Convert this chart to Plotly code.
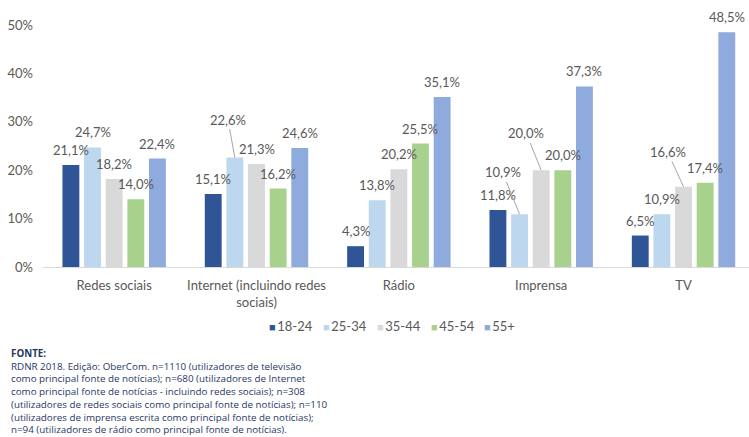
import plotly.graph_objects as go

categories = ["Redes sociais", "Internet (incluindo redes<br>sociais)", "Rádio", "Imprensa", "TV"]
series_names = ["18-24", "25-34", "35-44", "45-54", "55+"]
v_18_24 = [21.1, 15.1, 4.3, 11.8, 6.5]
v_25_34 = [24.7, 22.6, 13.8, 10.9, 10.9]
v_35_44 = [18.2, 21.3, 20.2, 20.0, 16.6]
v_45_54 = [14.0, 16.2, 25.5, 20.0, 17.4]
v_55p = [22.4, 24.6, 35.1, 37.3, 48.5]
series_values = [v_18_24, v_25_34, v_35_44, v_45_54, v_55p]
colors = ["#2F5597", "#BDD7EE", "#D9D9D9", "#A9D18E", "#8FAADC"]
y_ticks = [0, 10, 20, 30, 40, 50]
y_ticklabels = ["0%", "10%", "20%", "30%", "40%", "50%"]

# labels drawn with a leader line: (series index, category index) -> (dx, dy) in px
leader = {(1, 1): (-7, -38), (1, 3): (-17, -42), (2, 3): (-15, -37), (2, 4): (-16, -35)}

FONT = "Lato, 'Open Sans', sans-serif"
GRAY = "#595959"
W, H = 749, 437
ML, MT = 43, 25
PLOT_BOTTOM = 267
MB = H - PLOT_BOTTOM

fig = go.Figure()
for name, vals, col in zip(series_names, series_values, colors):
    fig.add_trace(go.Bar(name=name, x=categories, y=vals, marker=dict(color=col, line=dict(width=0)),
                         showlegend=False))

xrange = [-0.5, 4.46]
plot_w = W - ML
plot_h = PLOT_BOTTOM - MT
px_per_cat = plot_w / (xrange[1] - xrange[0])
bargap = 0.24
bargroupgap = 0.22
slot = px_per_cat * (1 - bargap) / len(series_names)

annotations = []
for si, vals in enumerate(series_values):
    xs = (si - (len(series_names) - 1) / 2) * slot
    for ci, v in enumerate(vals):
        txt = f"{v:.1f}%".replace(".", ",")
        if (si, ci) in leader:
            dx, dy = leader[(si, ci)]
            annotations.append(dict(x=categories[ci], y=v, xref="x", yref="y", text=txt,
                                    showarrow=True, arrowhead=0, arrowwidth=1, arrowcolor="#A6A6A6",
                                    ax=dx, ay=dy, xshift=xs, standoff=0,
                                    font=dict(family=FONT, size=13, color=GRAY)))
        else:
            annotations.append(dict(x=categories[ci], y=v, xref="x", yref="y", text=txt,
                                    showarrow=False, xshift=xs, yshift=15,
                                    font=dict(family=FONT, size=13, color=GRAY)))

# legend (Excel style: small square right before the text)
legend_x_px = [267, 321, 375, 429, 482]
for name, col, lx in zip(series_names, colors, legend_x_px):
    annotations.append(dict(x=(lx - ML) / plot_w, xref="paper", xanchor="left",
                            y=(PLOT_BOTTOM - 326) / plot_h, yref="paper", yanchor="middle",
                            text=f"<span style='color:{col};font-size:11px'>■</span>\u2009{name}",
                            showarrow=False, font=dict(family=FONT, size=13, color=GRAY)))

foot = ("<b>FONTE:</b><br>"
        "RDNR 2018. Edição: OberCom. n=1110 (utilizadores de televisão<br>"
        "como principal fonte de notícias); n=680 (utilizadores de Internet<br>"
        "como principal fonte de notícias - incluindo redes sociais); n=308<br>"
        "(utilizadores de redes sociais como principal fonte de notícias); n=110<br>"
        "(utilizadores de imprensa escrita como principal fonte de notícias);<br>"
        "n=94 (utilizadores de rádio como principal fonte de notícias).")
annotations.append(dict(x=0, xref="paper", xanchor="left", xshift=9 - ML,
                        y=(PLOT_BOTTOM - 345) / plot_h, yref="paper", yanchor="top",
                        text=foot, showarrow=False, align="left",
                        font=dict(family="'Open Sans', Lato, sans-serif", size=9.8, color="#1F3864")))

fig.update_layout(
    width=W, height=H,
    margin=dict(l=ML, r=0, t=MT, b=MB, autoexpand=False),
    paper_bgcolor="white", plot_bgcolor="white",
    barmode="group", bargap=bargap, bargroupgap=bargroupgap,
    font=dict(family=FONT, size=13, color=GRAY),
    xaxis=dict(range=xrange, showline=True, linecolor="#D9D9D9", linewidth=1, showgrid=False,
               ticks="", ticklabelstandoff=6, automargin=False, tickfont=dict(size=13, color=GRAY)),
    yaxis=dict(range=[0, 50], tickvals=y_ticks, ticktext=y_ticklabels, showgrid=False,
               zeroline=False, showline=False, ticks="", ticklabelstandoff=9, automargin=False,
               tickfont=dict(size=13, color=GRAY)),
    annotations=annotations,
    showlegend=False,
)
fig.write_html("out.html", config={"displayModeBar": False},
               post_script="document.body.style.margin='0';document.body.style.padding='0';")
